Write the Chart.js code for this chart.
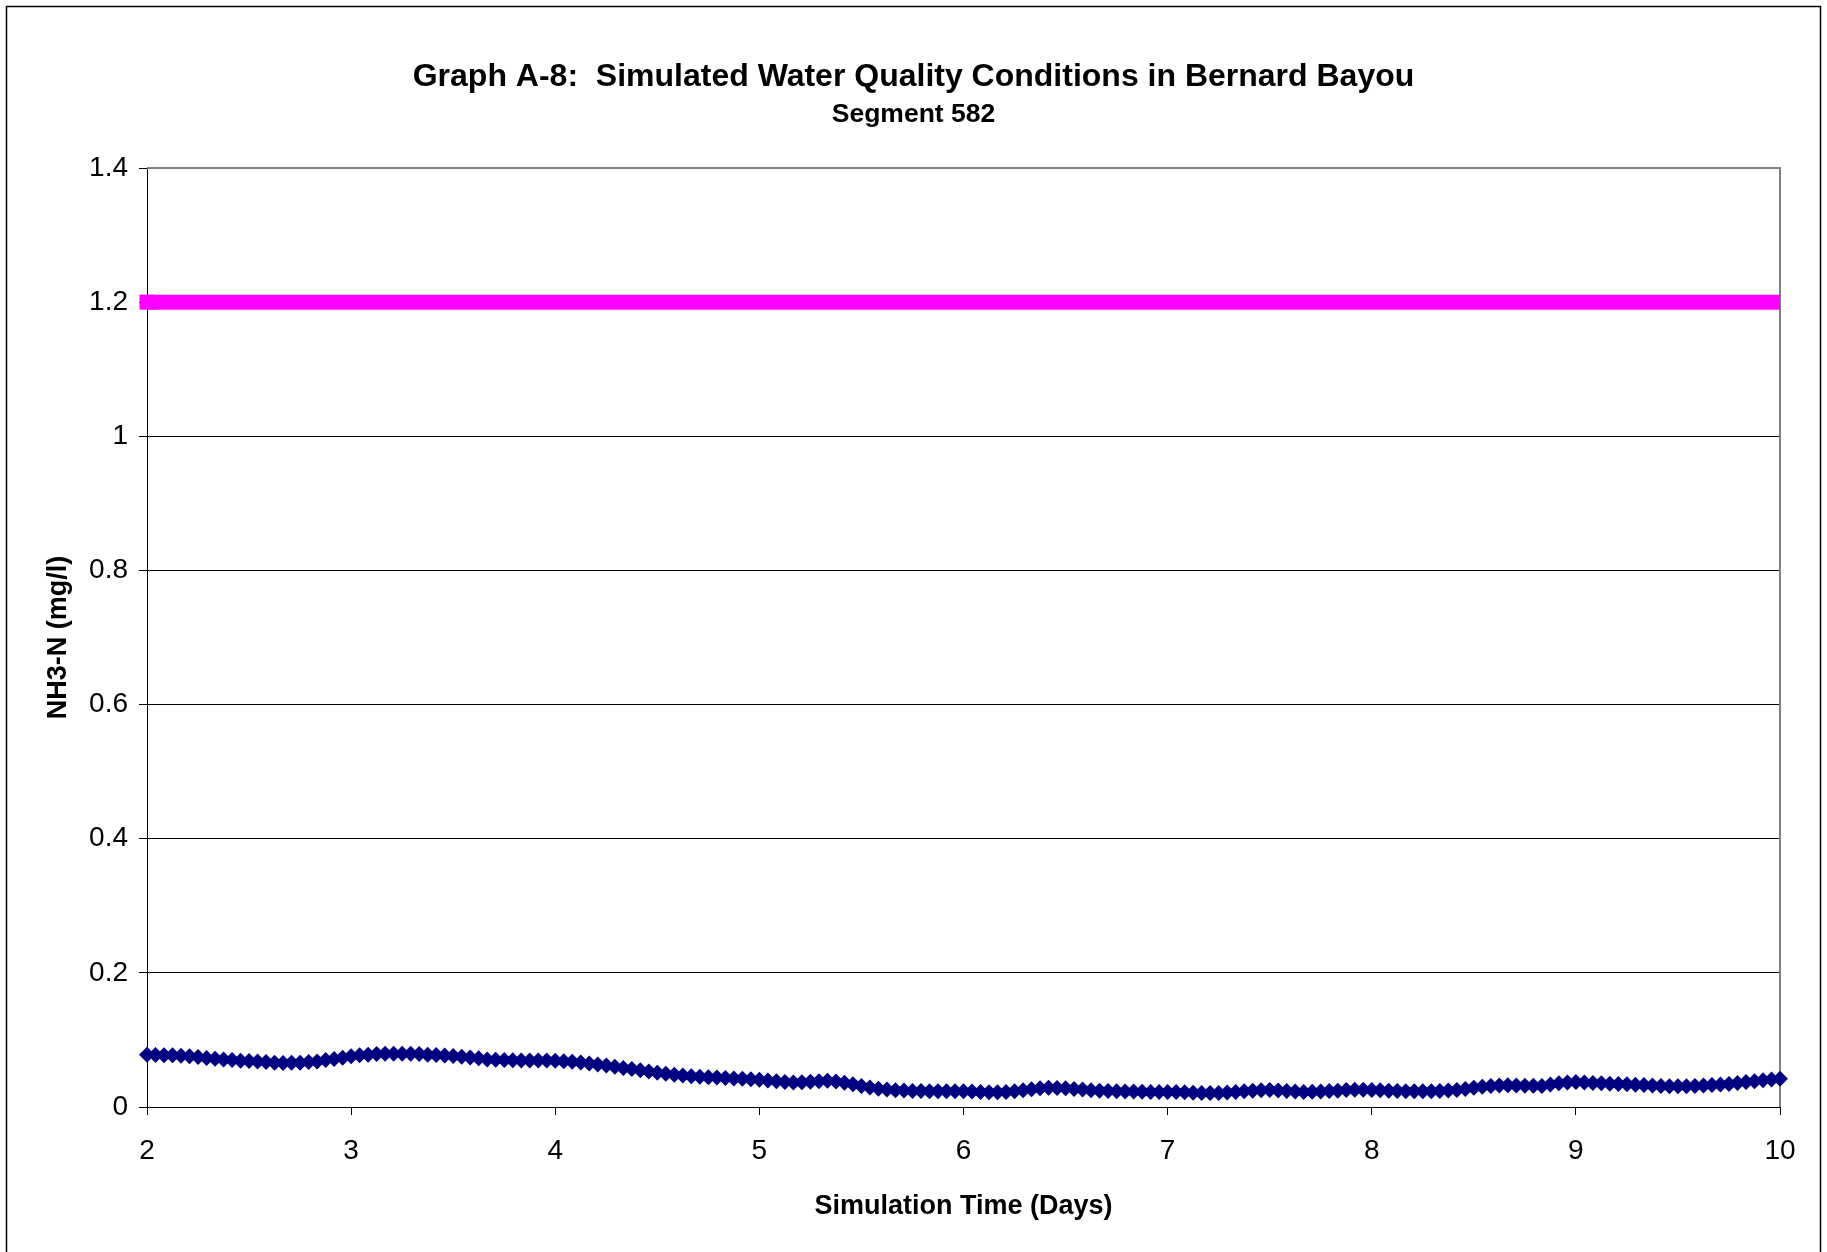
<!DOCTYPE html>
<html>
<head>
<meta charset="utf-8">
<script src="https://cdn.jsdelivr.net/npm/chart.js@4.4.1/dist/chart.umd.min.js"></script>
<style>
  html, body { margin: 0; padding: 0; background: #fff; }
  canvas { display: block; }
</style>
</head>
<body>
<canvas id="chart" width="1827" height="1252"></canvas>
<script>
const chartTitle = 'Graph A-8:  Simulated Water Quality Conditions in Bernard Bayou';
const chartSubtitle = 'Segment 582';
const xAxisTitle = 'Simulation Time (Days)';
const yAxisTitle = 'NH3-N (mg/l)';

const xTicks = [2, 3, 4, 5, 6, 7, 8, 9, 10];
const yTicks = [0, 0.2, 0.4, 0.6, 0.8, 1, 1.2, 1.4];

// model output, one value per hour starting at day 2
const startDay = 2;
const hoursPerDay = 24;
const nh3Hourly = [
  0.078, 0.0775, 0.077, 0.077, 0.0765, 0.0755, 0.0745, 0.073, 0.072, 0.071, 0.070, 0.069,
  0.0686, 0.068, 0.067, 0.066, 0.0656, 0.066, 0.066, 0.067, 0.068, 0.070, 0.0716, 0.0735,
  0.0755, 0.077, 0.078, 0.079, 0.0795, 0.0795, 0.0795, 0.0793, 0.079, 0.078, 0.0775, 0.0768,
  0.076, 0.075, 0.0738, 0.0725, 0.071, 0.0705, 0.070, 0.0698, 0.0695, 0.0695, 0.0695, 0.0692,
  0.069, 0.0683, 0.0675, 0.0663, 0.065, 0.0635, 0.062, 0.060, 0.058, 0.0565, 0.0547, 0.053,
  0.051, 0.0495, 0.048, 0.047, 0.046, 0.0452, 0.0445, 0.0438, 0.0432, 0.0426, 0.042, 0.0414,
  0.0407, 0.0395, 0.0383, 0.0372, 0.0365, 0.037, 0.0375, 0.0385, 0.0393, 0.038, 0.0363, 0.034,
  0.0313, 0.029, 0.0273, 0.026, 0.025, 0.0245, 0.024, 0.0237, 0.0234, 0.0234, 0.0234, 0.0234,
  0.0234, 0.023, 0.0224, 0.022, 0.0219, 0.0225, 0.0234, 0.025, 0.0264, 0.0278, 0.0288, 0.0285,
  0.028, 0.027, 0.026, 0.025, 0.0244, 0.0238, 0.0234, 0.0232, 0.023, 0.0227, 0.0224, 0.0224,
  0.0224, 0.0222, 0.0219, 0.0214, 0.0209, 0.0209, 0.0209, 0.0215, 0.0224, 0.0235, 0.0244, 0.025,
  0.0253, 0.0246, 0.0239, 0.023, 0.0224, 0.0227, 0.023, 0.0237, 0.0244, 0.0252, 0.0259, 0.0256,
  0.0253, 0.0248, 0.0244, 0.0239, 0.0234, 0.0234, 0.0234, 0.0234, 0.0239, 0.0245, 0.0253, 0.027,
  0.0288, 0.0302, 0.0313, 0.032, 0.0323, 0.032, 0.0318, 0.0315, 0.0313, 0.0335, 0.0353, 0.0365,
  0.0373, 0.0365, 0.0358, 0.0353, 0.0348, 0.0343, 0.0338, 0.0333, 0.0328, 0.032, 0.0313, 0.031,
  0.0308, 0.031, 0.0313, 0.032, 0.0328, 0.0335, 0.0343, 0.0358, 0.0373, 0.0385, 0.0398, 0.041,
  0.0423
];

// water quality criterion line
const criterionDays = [2, 10];
const criterionValues = [1.2, 1.2];

const nh3Points = nh3Hourly.map((v, i) => ({ x: startDay + i / hoursPerDay, y: v }));
const criterionPoints = criterionDays.map((d, i) => ({ x: d, y: criterionValues[i] }));

const FONT = "'Liberation Sans', Arial, sans-serif";

// gray plot-area border plus the outer chart frame
const framePlugin = {
  id: 'frame',
  beforeDatasetsDraw(chart) {
    const { ctx, chartArea: a } = chart;
    ctx.save();
    ctx.strokeStyle = '#808080';
    ctx.lineWidth = 2;
    ctx.beginPath();
    ctx.moveTo(a.left, a.top);
    ctx.lineTo(a.right, a.top);
    ctx.lineTo(a.right, a.bottom);
    ctx.stroke();
    ctx.restore();
  },
  afterDraw(chart) {
    const ctx = chart.ctx;
    ctx.save();
    ctx.strokeStyle = '#000';
    ctx.lineWidth = 1.5;
    ctx.strokeRect(6.5, 6.5, chart.width - 13, chart.height + 10);
    ctx.restore();
  }
};

new Chart(document.getElementById('chart'), {
  type: 'line',
  data: {
    datasets: [
      {
        label: 'NH3-N',
        data: nh3Points,
        borderColor: '#000080',
        backgroundColor: '#000080',
        borderWidth: 1,
        pointStyle: 'rectRot',
        pointRadius: 8,
        pointBorderWidth: 0,
        pointBackgroundColor: '#000080',
        clip: false
      },
      {
        label: 'Criterion',
        data: criterionPoints,
        borderColor: '#ff00ff',
        backgroundColor: '#ff00ff',
        borderWidth: 15,
        borderCapStyle: 'butt',
        pointStyle: 'rect',
        pointRadius: [10.6, 0],
        pointBorderWidth: 0,
        pointBackgroundColor: '#ff00ff',
        clip: false
      }
    ]
  },
  options: {
    responsive: false,
    animation: false,
    layout: { padding: { top: 40, left: 47, right: 47, bottom: 0 } },
    plugins: {
      legend: { display: false },
      tooltip: { enabled: false },
      title: {
        display: true,
        text: chartTitle,
        color: '#000',
        font: { family: FONT, size: 32, weight: 'bold' },
        padding: { top: 17.8, bottom: 0 }
      },
      subtitle: {
        display: true,
        text: chartSubtitle,
        color: '#000',
        font: { family: FONT, size: 26.5, weight: 'bold' },
        padding: { top: 2.9, bottom: 37.1 }
      }
    },
    scales: {
      x: {
        type: 'linear',
        min: 2,
        max: 10,
        afterFit(scale) { scale.height = 145; },
        afterBuildTicks(scale) { scale.ticks = xTicks.map(v => ({ value: v })); },
        border: { color: '#000', width: 1 },
        grid: { drawOnChartArea: false, drawTicks: true, tickLength: 8, tickColor: '#000' },
        ticks: {
          color: '#000',
          padding: 19,
          maxRotation: 0,
          font: { family: FONT, size: 28 }
        },
        title: {
          display: true,
          text: xAxisTitle,
          color: '#000',
          font: { family: FONT, size: 27, weight: 'bold' },
          padding: { top: 0, bottom: 29 }
        }
      },
      y: {
        type: 'linear',
        min: 0,
        max: 1.4,
        afterFit(scale) { scale.width = 100; },
        afterBuildTicks(scale) { scale.ticks = yTicks.map(v => ({ value: v })); },
        border: { color: '#000', width: 1 },
        grid: { color: '#000', lineWidth: 1, drawTicks: true, tickLength: 8, tickColor: '#000' },
        ticks: {
          color: '#000',
          padding: 11,
          font: { family: FONT, size: 28 },
          callback: (v) => String(Math.round(v * 10) / 10)
        },
        title: {
          display: true,
          text: yAxisTitle,
          color: '#000',
          font: { family: FONT, size: 27, weight: 'bold' },
          padding: { top: -5, bottom: 0 }
        }
      }
    }
  },
  plugins: [framePlugin]
});
</script>
</body>
</html>
